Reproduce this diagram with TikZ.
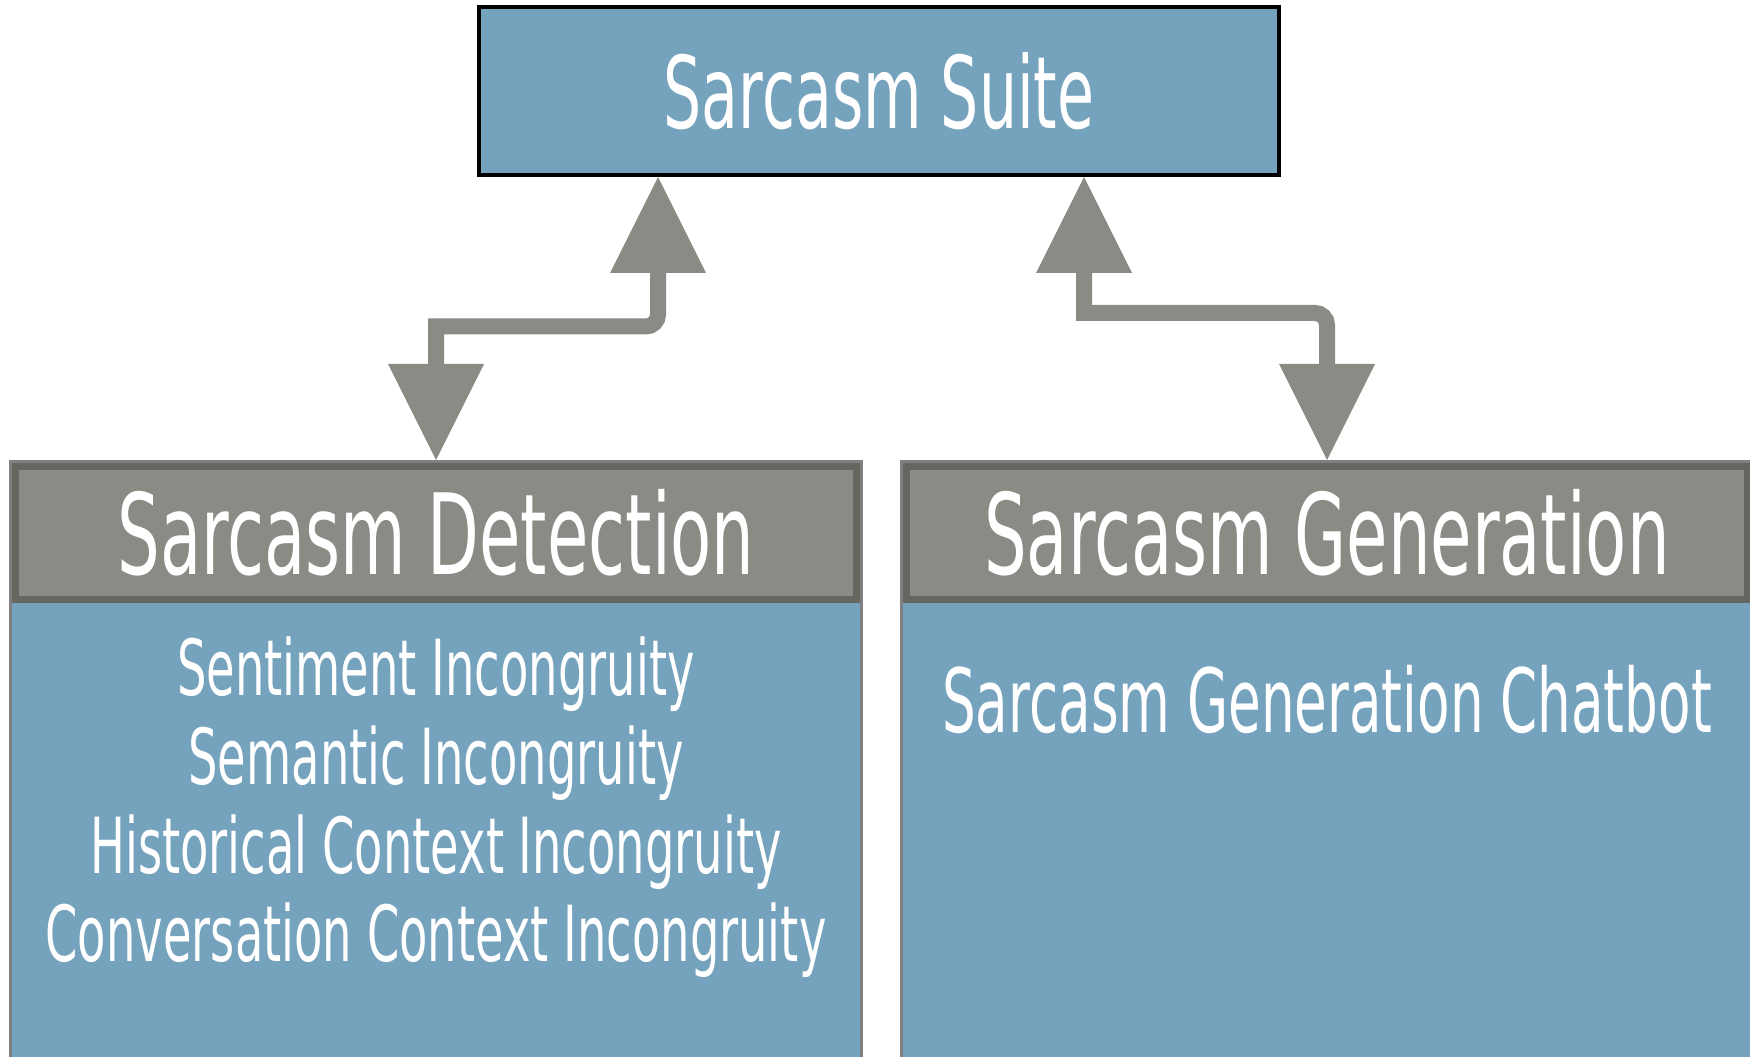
\documentclass[tikz,border=0pt]{standalone}
\usepackage{fontspec}
\usepackage{tikz}
\usetikzlibrary{positioning,arrows.meta}

\newfontfamily\panelfont[FakeStretch=0.6]{DejaVu Sans}
\definecolor{suiteblue}{RGB}{117,162,189}
\definecolor{headgray}{RGB}{139,139,133}
\definecolor{headedge}{RGB}{102,102,97}
\definecolor{paneledge}{RGB}{128,128,128}

\begin{document}
\begin{tikzpicture}[
    suitebox/.style={draw=black, line width=0.04cm, fill=suiteblue, inner sep=0pt,
      minimum width=8cm, minimum height=1.68cm, text=white,
      font=\panelfont\fontsize{28.5}{34}\selectfont},
    panel/.style={draw=paneledge, line width=0.03cm, fill=suiteblue, inner sep=0pt,
      minimum width=8.51cm, minimum height=6.4cm, anchor=north west},
    panelhead/.style={draw=headedge, line width=0.07cm, fill=headgray, inner sep=0pt,
      minimum width=8.41cm, minimum height=1.33cm, text=white,
      font=\panelfont\fontsize{31.9}{38}\selectfont},
    itemtext/.style={text=white, align=center, inner sep=0pt},
    link/.style={draw=headgray, line width=0.16cm,
      >={Triangle[length=0.96cm,width=0.96cm,line width=0pt]}, <->}
  ]
  \useasboundingbox (0,0) rectangle (17.5,10.57);
  \clip (0,0) rectangle (17.5,10.57);

  % top box
  \node[suitebox] (suite) at (8.79,9.66) {Sarcasm Suite};

  % the two panels
  \node[panel] (detectbox) at (0.09,5.97) {};
  \node[panelhead, anchor=north] (detecthead) at ([yshift=-0.03cm]detectbox.north) {Sarcasm Detection};
  \node[panel] (genbox) at (9.00,5.97) {};
  \node[panelhead, anchor=north] (genhead) at ([yshift=-0.03cm]genbox.north) {Sarcasm Generation};

  \node[itemtext, font=\panelfont\fontsize{22}{25.3}\selectfont,
    below=3.59cm of detecthead, anchor=base] (detectlist)
    {Sentiment Incongruity\\Semantic Incongruity\\Historical Context Incongruity\\Conversation Context Incongruity};
  \node[itemtext, font=\panelfont\fontsize{25.2}{30}\selectfont,
    below=1.30cm of genhead, anchor=base] (genlist) {Sarcasm Generation Chatbot};

  % connectors
  \coordinate (detectport) at ([xshift=-2.21cm]suite.south);
  \coordinate (genport) at ([xshift=2.05cm]suite.south);
  \draw[link] (detectport) [rounded corners=0.12cm] -- (detectport |- 0,7.305) [sharp corners]
    -- (detectbox.north |- 0,7.305) -- (detectbox.north);
  \draw[link] (genport) -- (genport |- 0,7.44) [rounded corners=0.12cm]
    -- (genbox.north |- 0,7.44) [sharp corners] -- (genbox.north);
\end{tikzpicture}
\end{document}
